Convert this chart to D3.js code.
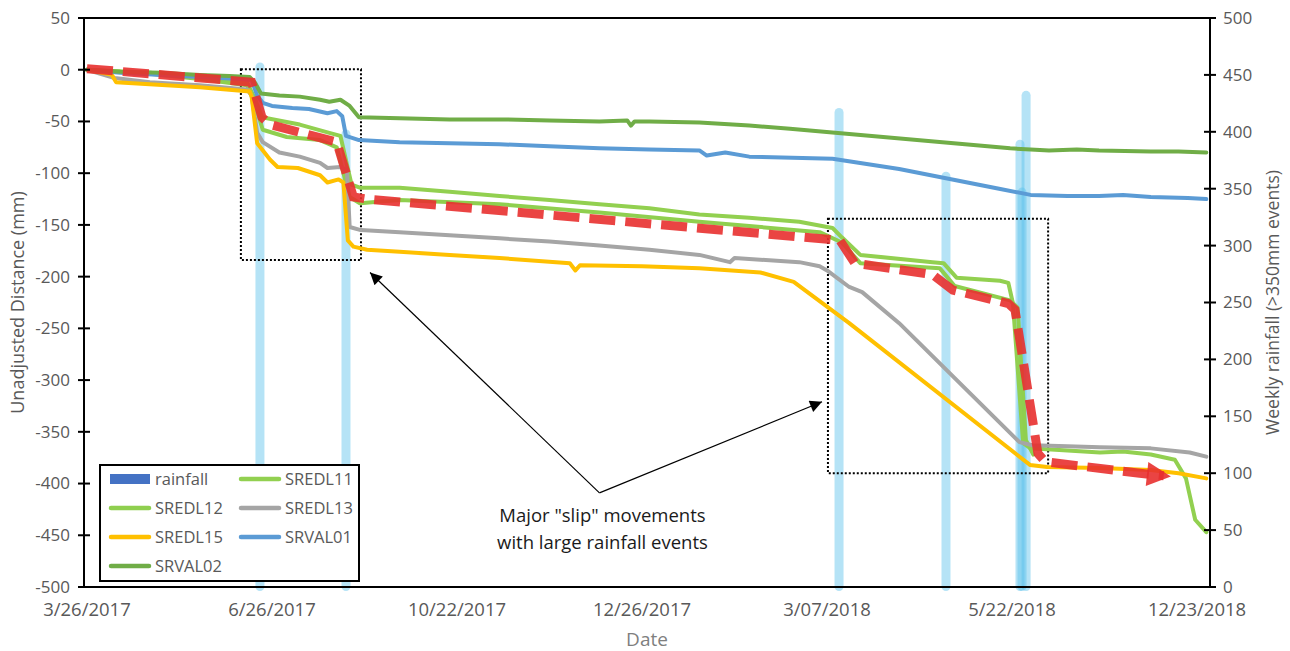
<!DOCTYPE html>
<html>
<head>
<meta charset="utf-8">
<script src="https://cdn.jsdelivr.net/npm/d3@7"></script>
<style>
  html, body { margin: 0; padding: 0; background: #fff; }
  svg { display: block; font-family: "Open Sans", sans-serif; }
  .tick-label { fill: #595959; }
</style>
</head>
<body>
<svg id="chart" width="1290" height="651"></svg>
<script>
// slip chart — rainfall vs movement

const cfg = {
    plot: { left: 84, right: 1210, top: 18, bottom: 587 },
    xDomain: [-1.6, 607],
    lineW: 4,
    barW: 9
};

// x axis is a category axis; positions are category indices, labels every 100
const tickIndex = [0, 100, 200, 300, 400, 500, 600];
const tickLabels = ["3/26/2017", "6/26/2017", "10/22/2017", "12/26/2017", "3/07/2018", "5/22/2018", "12/23/2018"];
const leftTicks = [50, 0, -50, -100, -150, -200, -250, -300, -350, -400, -450, -500];
const rightTicks = [0, 50, 100, 150, 200, 250, 300, 350, 400, 450, 500];

// weekly rainfall events (right axis)
const rainIndex = [93.5, 140, 406.5, 464.3, 504.3, 505.4, 507.6];
const rainValue = [461, 402, 421, 365, 393, 351, 436];

// displacement series [category index, mm]
const SREDL11 = [[0,0],[34,-3],[61,-7],[86.5,-12],[91,-29],[94.6,-46],[115,-53],[131,-61],[137,-64],[143,-111],[147.5,-114],[169,-114],[196,-118],[223,-122],[250,-126],[277,-130],[304,-134],[331,-140],[358,-143],[385,-147],[403,-153],[408,-162],[418,-179],[457,-186],[463,-187],[470,-201],[493.5,-204],[498,-206],[500.5,-226],[506,-361],[510,-366],[530,-368],[547.5,-370],[560,-369],[575,-372],[588,-377],[594,-395],[599,-435],[605,-447]];
const SREDL12 = [[0,0],[34,-4],[61,-9],[86.5,-15],[91,-34],[95,-58],[108,-65],[126,-68],[135,-75],[142,-123],[147.5,-129],[169,-126],[223,-130],[277,-138],[331,-147],[396,-157],[408,-167],[418,-187],[461,-192],[469,-209],[499,-223],[503,-230],[507.5,-358],[511.5,-372]];
const SREDL13 = [[0,0],[15,-8],[34,-12],[61,-15],[86.5,-19],[89,-25],[92,-61],[95,-70],[104,-80],[115,-84],[126,-90],[130,-95],[137,-94],[140.5,-97],[142,-152],[148,-155],[169,-157],[196,-160],[223,-163],[250,-166],[277,-170],[304,-174],[331,-179],[347.5,-186],[350,-182],[385,-186],[396,-190],[400,-194],[412,-210],[419,-215],[439,-245],[504,-360],[511,-363],[530,-364],[547.5,-365],[575,-366],[596,-370],[605,-374]];
const SREDL15 = [[0,0],[13.5,-5],[15.7,-12],[61,-17],[88,-21],[89,-26],[92,-71],[99,-87],[103,-94],[114,-95],[126,-102],[130,-109],[136,-106],[138.6,-109],[141,-165],[144,-171],[151.4,-174],[169,-176],[196,-179],[223,-182],[261,-187],[264,-194],[266.5,-189],[300,-190],[331,-192],[364,-196],[382,-205],[412,-245],[509.7,-382],[519,-384],[547.5,-385],[575,-387],[590,-390],[605,-395]];
const SRVAL01 = [[0,0],[18,-3],[40,-5],[61,-7],[83,-9],[89,-10],[92,-25],[95,-32],[100,-35],[111,-37],[120,-38],[130,-42],[135,-40],[138,-45],[140,-64],[147,-68],[169,-70],[196,-71],[223,-72],[250,-74],[277,-76],[304,-77],[331,-78],[335,-83],[345,-80],[358,-84],[403,-86],[439,-96],[493,-115],[510,-121],[530,-122],[547,-122],[560,-121],[575,-123],[595,-124],[605,-125]];
const SRVAL02 = [[0,0],[18,-2],[40,-3],[61,-5],[77,-6],[88,-7],[91,-13],[94,-23],[104,-25],[115,-26],[126,-29],[131,-31],[137,-29],[142,-35],[147,-46],[169,-47],[196,-48],[223,-48],[250,-49],[277,-50],[292,-49],[294,-54],[296,-50],[304,-50],[331,-51],[358,-54],[380,-57],[499,-76],[510,-77],[520,-78],[535,-77],[547,-78],[575,-79],[590,-79],[605,-80]];

const series = [
    { name: "SREDL11", color: "#92d050", data: SREDL11 },
    { name: "SREDL12", color: "#8fcf4f", data: SREDL12 },
    { name: "SREDL13", color: "#a5a5a5", data: SREDL13 },
    { name: "SREDL15", color: "#ffc000", data: SREDL15 },
    { name: "SRVAL01", color: "#5b9bd5", data: SRVAL01 },
    { name: "SRVAL02", color: "#70ad47", data: SRVAL02 }
];

// annotations (data coords)
const slipTrend = [[0,1],[89,-12],[94.6,-46],[99,-53],[135,-70],[144,-123],[151.4,-125],[407,-165],[415,-187],[457,-198],[468,-213],[498,-226],[501.6,-232],[514,-371],[518,-379],[569,-390],[582,-392.5]];
const boxes = [
    { x0: 83.2, x1: 148.1, y0: 0.5, y1: -184 },
    { x0: 400.5, x1: 519.5, y0: -144, y1: -390 }
];
const arrowFrom = [277, -409];
const arrowTo = [[153, -196], [397.3, -321]];
const noteLines = ["Major \"slip\" movements", "with large rainfall events"];

function init() {
    const svg = d3.select("#chart");
    const p = cfg.plot;

    const x = d3.scaleLinear().domain(cfg.xDomain).range([p.left, p.right]);
    const y = d3.scaleLinear().domain([-500, 50]).range([p.bottom, p.top]);
    const y2 = d3.scaleLinear().domain([0, 500]).range([p.bottom, p.top]);

    const defs = svg.append("defs");
    defs.append("marker").attr("id", "blackHead")
        .attr("viewBox", "0 0 10 10").attr("refX", 10).attr("refY", 5)
        .attr("markerUnits", "userSpaceOnUse")
        .attr("markerWidth", 14).attr("markerHeight", 12).attr("orient", "auto")
        .append("path").attr("d", "M0,0 L10,5 L0,10 z").attr("fill", "#000");
    defs.append("marker").attr("id", "redHead")
        .attr("viewBox", "0 0 10 10").attr("refX", 7).attr("refY", 5)
        .attr("markerUnits", "userSpaceOnUse")
        .attr("markerWidth", 28).attr("markerHeight", 24).attr("orient", "auto")
        .append("path").attr("d", "M0,0 L10,5 L0,10 z").attr("fill", "#e8302f").attr("opacity", 0.9);

    // rainfall bars
    svg.append("g").selectAll("rect").data(rainIndex).join("rect")
        .attr("x", d => x(d) - cfg.barW / 2)
        .attr("y", (d, i) => y2(rainValue[i]))
        .attr("width", cfg.barW)
        .attr("height", (d, i) => y2(0) - y2(rainValue[i]) + 4)
        .attr("rx", 4.5)
        .attr("fill", "#5bc0eb").attr("fill-opacity", 0.45);

    // dotted boxes
    svg.append("g").selectAll("rect").data(boxes).join("rect")
        .attr("x", d => x(d.x0)).attr("y", d => y(d.y0))
        .attr("width", d => x(d.x1) - x(d.x0)).attr("height", d => y(d.y1) - y(d.y0))
        .attr("fill", "none").attr("stroke", "#000").attr("stroke-width", 2)
        .attr("stroke-dasharray", "2,2");

    // series lines
    const line = d3.line().x(d => x(d[0])).y(d => y(d[1]));
    svg.append("g").selectAll("path").data(series).join("path")
        .attr("d", d => line(d.data))
        .attr("fill", "none").attr("stroke", d => d.color)
        .attr("stroke-width", cfg.lineW)
        .attr("stroke-linejoin", "round").attr("stroke-linecap", "round");

    // red slip trend
    svg.append("path").attr("d", line(slipTrend))
        .attr("fill", "none").attr("stroke", "#e8302f").attr("stroke-opacity", 0.9)
        .attr("stroke-width", 9).attr("stroke-dasharray", "26,10")
        .attr("marker-end", "url(#redHead)");

    // frame
    svg.append("rect").attr("x", p.left).attr("y", p.top)
        .attr("width", p.right - p.left).attr("height", p.bottom - p.top)
        .attr("fill", "none").attr("stroke", "#000").attr("stroke-width", 2);

    // left axis
    const gl = svg.append("g").attr("transform", `translate(${p.left},0)`);
    gl.selectAll("line").data(leftTicks).join("line")
        .attr("x1", -6).attr("x2", 6).attr("y1", d => y(d)).attr("y2", d => y(d))
        .attr("stroke", "#000").attr("stroke-width", 2);
    gl.selectAll("text").data(leftTicks).join("text").attr("class", "tick-label")
        .attr("x", -14).attr("y", d => y(d)).attr("dy", "0.35em")
        .attr("text-anchor", "end").attr("font-size", 17).text(d => d);

    // right axis
    const gr = svg.append("g").attr("transform", `translate(${p.right},0)`);
    gr.selectAll("line").data(rightTicks).join("line")
        .attr("x1", -6).attr("x2", 6).attr("y1", d => y2(d)).attr("y2", d => y2(d))
        .attr("stroke", "#000").attr("stroke-width", 2);
    gr.selectAll("text").data(rightTicks).join("text").attr("class", "tick-label")
        .attr("x", 13).attr("y", d => y2(d)).attr("dy", "0.35em")
        .attr("font-size", 17).text(d => d);

    // x labels
    svg.append("g").selectAll("text").data(tickIndex).join("text").attr("class", "tick-label")
        .attr("x", d => x(d)).attr("y", p.bottom + 29)
        .attr("text-anchor", "middle").attr("font-size", 18.5)
        .text((d, i) => tickLabels[i]);

    // axis titles
    svg.append("text").attr("transform", `translate(24,${(p.top + p.bottom) / 2}) rotate(-90)`)
        .attr("text-anchor", "middle").attr("fill", "#595959").attr("font-size", 18)
        .text("Unadjusted Distance (mm)");
    svg.append("text").attr("transform", `translate(1279,${(p.top + p.bottom) / 2}) rotate(-90)`)
        .attr("text-anchor", "middle").attr("fill", "#595959").attr("font-size", 17.5)
        .text("Weekly rainfall (>350mm events)");
    svg.append("text").attr("x", (p.left + p.right) / 2).attr("y", 646)
        .attr("text-anchor", "middle").attr("fill", "#7f7f7f").attr("font-size", 19)
        .text("Date");

    // annotation arrows + note
    svg.append("g").selectAll("line").data(arrowTo).join("line")
        .attr("x1", x(arrowFrom[0])).attr("y1", y(arrowFrom[1]))
        .attr("x2", d => x(d[0])).attr("y2", d => y(d[1]))
        .attr("stroke", "#000").attr("stroke-width", 1.2)
        .attr("marker-end", "url(#blackHead)");
    svg.append("g").selectAll("text").data(noteLines).join("text")
        .attr("x", x(arrowFrom[0]) + 3).attr("y", (d, i) => y(arrowFrom[1]) + 29 + i * 27)
        .attr("text-anchor", "middle").attr("fill", "#1a1a1a").attr("font-size", 18.5)
        .text(d => d);

    // legend
    const leg = svg.append("g").attr("transform", "translate(100,465)");
    leg.append("rect").attr("width", 259).attr("height", 116)
        .attr("fill", "#fff").attr("stroke", "#000").attr("stroke-width", 2);
    const items = [{ name: "rainfall", color: "#4472c4", bar: true }].concat(series);
    const order = ["rainfall", "SREDL11", "SREDL12", "SREDL13", "SREDL15", "SRVAL01", "SRVAL02"];
    const entries = order.map(n => items.find(it => it.name === n));
    const ent = leg.selectAll("g.item").data(entries).join("g").attr("class", "item")
        .attr("transform", (d, i) => `translate(${i % 2 ? 140 : 10},${14 + Math.floor(i / 2) * 29})`);
    ent.filter(d => d.bar).append("rect")
        .attr("x", 0).attr("y", -5).attr("width", 40).attr("height", 10)
        .attr("fill", d => d.color);
    ent.filter(d => !d.bar).append("line")
        .attr("x1", 1).attr("x2", 39).attr("y1", 0).attr("y2", 0)
        .attr("stroke", d => d.color).attr("stroke-width", 4.5).attr("stroke-linecap", "round");
    ent.append("text").attr("x", 45).attr("dy", "0.35em")
        .attr("fill", "#595959").attr("font-size", 16.5).text(d => d.name);
}

document.addEventListener("DOMContentLoaded", init);
</script>
</body>
</html>
